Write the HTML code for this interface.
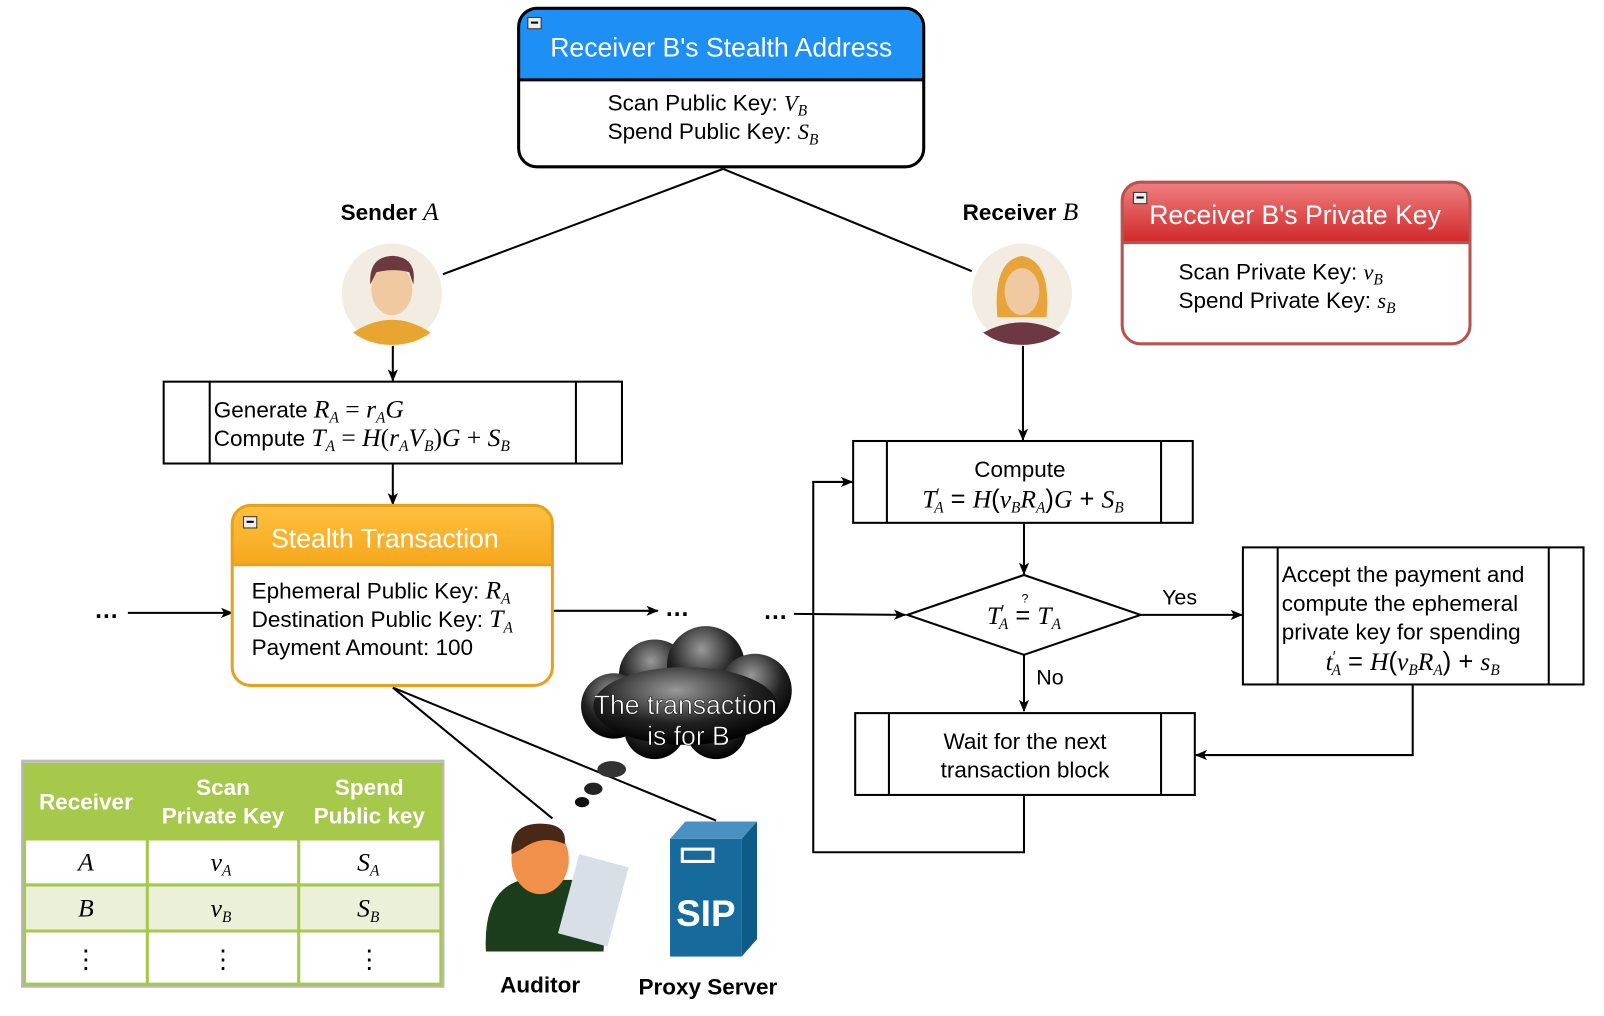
<!DOCTYPE html>
<html><head><meta charset="utf-8"><style>
html,body{margin:0;padding:0;background:#fff;}
svg{display:block;}
text{font-family:"Liberation Sans",sans-serif;}
.m{font-family:"Liberation Serif",serif;font-style:italic;}
</style></head><body>
<svg width="1604" height="1016" viewBox="0 0 1568 993" xmlns="http://www.w3.org/2000/svg">
<defs>
<marker id="ar" markerWidth="12" markerHeight="10" refX="11" refY="5" orient="auto" markerUnits="userSpaceOnUse"><path d="M0,0 L12,5 L0,10 L3,5 z" fill="#000"/></marker>
<linearGradient id="rg" x1="0" y1="0" x2="0" y2="1"><stop offset="0" stop-color="#f08080"/><stop offset="1" stop-color="#d0282a"/></linearGradient>
<linearGradient id="og" x1="0" y1="0" x2="0" y2="1"><stop offset="0" stop-color="#ffc040"/><stop offset="1" stop-color="#f5a81c"/></linearGradient>
<radialGradient id="cg" cx="0.45" cy="0.3" r="0.7"><stop offset="0" stop-color="#999"/><stop offset="0.6" stop-color="#222"/><stop offset="1" stop-color="#000"/></radialGradient>
</defs>
<g fill="none" stroke="#000" stroke-width="2">
<line x1="707" y1="165" x2="433" y2="268"/>
<line x1="707" y1="165" x2="950" y2="265"/>
<line x1="384" y1="672" x2="540" y2="800"/>
<line x1="384" y1="672" x2="700" y2="802"/>
<line x1="384" y1="338" x2="384" y2="372" marker-end="url(#ar)"/>
<line x1="384" y1="453" x2="384" y2="493" marker-end="url(#ar)"/>
<line x1="125" y1="599" x2="227" y2="599" marker-end="url(#ar)"/>
<line x1="540" y1="597" x2="643" y2="597" marker-end="url(#ar)"/>
<line x1="776" y1="600" x2="885" y2="601" marker-end="url(#ar)"/>
<line x1="1000" y1="338" x2="1000" y2="430" marker-end="url(#ar)"/>
<line x1="1001" y1="511" x2="1001" y2="561" marker-end="url(#ar)"/>
<line x1="1115" y1="601" x2="1214" y2="601" marker-end="url(#ar)"/>
<line x1="1001" y1="640" x2="1001" y2="695" marker-end="url(#ar)"/>
<polyline points="1381,669 1381,738 1169,738" marker-end="url(#ar)"/>
<polyline points="1001,777 1001,833 795,833 795,471 833,471" marker-end="url(#ar)"/>
</g>
<path d="M507,78 V26 Q507,8 525,8 H885 Q903,8 903,26 V78 Z" fill="#1e8ff5"/>
<rect x="507" y="8" width="396" height="155" rx="18" fill="none" stroke="#000" stroke-width="3"/>
<line x1="507" y1="78" x2="903" y2="78" stroke="#000" stroke-width="3"/>
<rect x="516" y="17" width="13" height="11" fill="#eee" stroke="#333"/><line x1="519" y1="22" x2="526" y2="22" stroke="#000" stroke-width="2"/>
<text x="705" y="55" font-size="26" fill="#fff" text-anchor="middle">Receiver B's Stealth Address</text>
<text x="594" y="108" font-size="22">Scan Public Key: <tspan class="m">V</tspan><tspan class="m" font-size="15" dy="5">B</tspan></text>
<text x="594" y="136" font-size="22">Spend Public Key: <tspan class="m">S</tspan><tspan class="m" font-size="15" dy="5">B</tspan></text>
<path d="M1097,237 V196 Q1097,178 1115,178 H1419 Q1437,178 1437,196 V237 Z" fill="url(#rg)"/>
<rect x="1097" y="178" width="340" height="158" rx="18" fill="none" stroke="#b85450" stroke-width="3"/>
<line x1="1097" y1="237" x2="1437" y2="237" stroke="#b85450" stroke-width="3"/>
<rect x="1108" y="188" width="13" height="11" fill="#eee" stroke="#333"/><line x1="1111" y1="193" x2="1118" y2="193" stroke="#000" stroke-width="2"/>
<text x="1266" y="219" font-size="26" fill="#fff" text-anchor="middle">Receiver B's Private Key</text>
<text x="1152" y="273" font-size="22">Scan Private Key: <tspan class="m">v</tspan><tspan class="m" font-size="15" dy="5">B</tspan></text>
<text x="1152" y="301" font-size="22">Spend Private Key: <tspan class="m">s</tspan><tspan class="m" font-size="15" dy="5">B</tspan></text>
<text x="333" y="215" font-size="22" font-weight="bold">Sender <tspan class="m" font-weight="normal" font-size="25">A</tspan></text>
<text x="941" y="215" font-size="22" font-weight="bold">Receiver <tspan class="m" font-weight="normal" font-size="25">B</tspan></text>
<ellipse cx="383" cy="287" rx="49" ry="49" fill="#f3ece2"/>
<path d="M345,325 Q383,300 421,325 Q405,337 383,337 Q361,337 345,325Z" fill="#e8a530"/>
<ellipse cx="383" cy="283" rx="20" ry="25" fill="#f0c9a0"/>
<path d="M362,278 Q360,250 385,250 Q408,252 404,278 L400,266 Q385,262 368,266 Z" fill="#6b3a3f"/>
<ellipse cx="999" cy="287" rx="49" ry="49" fill="#f3ece2"/>
<path d="M961,325 Q999,305 1037,325 Q1021,337 999,337 Q977,337 961,325Z" fill="#6e3842"/>
<path d="M975,310 Q970,255 999,250 Q1028,255 1023,310 Z" fill="#e7a43a"/>
<ellipse cx="999" cy="285" rx="17" ry="23" fill="#f0c9a0"/>
<g fill="none" stroke="#000" stroke-width="2">
<rect x="160" y="373" width="448" height="80"/><line x1="205" y1="373" x2="205" y2="453"/><line x1="563" y1="373" x2="563" y2="453"/>
<rect x="834" y="431" width="332" height="80"/><line x1="867" y1="431" x2="867" y2="511"/><line x1="1135" y1="431" x2="1135" y2="511"/>
<rect x="1215" y="535" width="333" height="134"/><line x1="1249" y1="535" x2="1249" y2="669"/><line x1="1514" y1="535" x2="1514" y2="669"/>
<rect x="836" y="697" width="332" height="80"/><line x1="869" y1="697" x2="869" y2="777"/><line x1="1135" y1="697" x2="1135" y2="777"/>
<polygon points="887,601 1001,562 1115,601 1001,640" fill="#fff"/>
</g>
<text x="209" y="408" font-size="22">Generate <tspan class="m" font-size="25">R</tspan><tspan class="m" font-size="15" dy="5">A</tspan><tspan dy="-5" font-size="25" font-family="Liberation Serif"> = </tspan><tspan class="m" font-size="25">r</tspan><tspan class="m" font-size="15" dy="5">A</tspan><tspan class="m" font-size="25" dy="-5">G</tspan></text>
<text x="209" y="436" font-size="22">Compute <tspan class="m" font-size="25">T</tspan><tspan class="m" font-size="15" dy="5">A</tspan><tspan dy="-5" font-size="25" font-family="Liberation Serif"> = </tspan><tspan class="m" font-size="25">H</tspan><tspan font-size="25" font-family="Liberation Serif">(</tspan><tspan class="m" font-size="25">r</tspan><tspan class="m" font-size="15" dy="5">A</tspan><tspan class="m" font-size="25" dy="-5">V</tspan><tspan class="m" font-size="15" dy="5">B</tspan><tspan font-size="25" font-family="Liberation Serif" dy="-5">)</tspan><tspan class="m" font-size="25">G</tspan><tspan font-size="25" font-family="Liberation Serif"> + </tspan><tspan class="m" font-size="25">S</tspan><tspan class="m" font-size="15" dy="5">B</tspan></text>
<path d="M227,552 V512 Q227,494 245,494 H522 Q540,494 540,512 V552 Z" fill="url(#og)"/>
<rect x="227" y="494" width="313" height="176" rx="18" fill="none" stroke="#e6a21f" stroke-width="3"/>
<line x1="227" y1="552" x2="540" y2="552" stroke="#e6a21f" stroke-width="3"/>
<rect x="238" y="505" width="13" height="11" fill="#eee" stroke="#333"/><line x1="241" y1="510" x2="248" y2="510" stroke="#000" stroke-width="2"/>
<text x="265" y="535" font-size="26" fill="#fff">Stealth Transaction</text>
<text x="246" y="585" font-size="22">Ephemeral Public Key: <tspan class="m" font-size="25">R</tspan><tspan class="m" font-size="15" dy="5">A</tspan></text>
<text x="246" y="613" font-size="22">Destination Public Key: <tspan class="m" font-size="25">T</tspan><tspan class="m" font-size="15" dy="5">A</tspan></text>
<text x="246" y="640" font-size="22">Payment Amount: 100</text>
<text x="92" y="604" font-size="24" font-weight="bold">…</text>
<text x="650" y="602" font-size="24" font-weight="bold">…</text>
<text x="746" y="605" font-size="24" font-weight="bold">…</text>
<text x="997" y="466" font-size="22" text-anchor="middle">Compute</text>
<text x="1000" y="496" font-size="25" text-anchor="middle" font-family="Liberation Serif"><tspan class="m">T</tspan><tspan font-size="15" dy="-8">′</tspan><tspan class="m" font-size="15" dx="-5" dy="13">A</tspan><tspan dy="-5"> = </tspan><tspan class="m">H</tspan>(<tspan class="m">v</tspan><tspan class="m" font-size="15" dy="5">B</tspan><tspan class="m" dy="-5">R</tspan><tspan class="m" font-size="15" dy="5">A</tspan><tspan dy="-5">)</tspan><tspan class="m">G</tspan> + <tspan class="m">S</tspan><tspan class="m" font-size="15" dy="5">B</tspan></text>
<text x="1001" y="610" font-size="25" text-anchor="middle" font-family="Liberation Serif"><tspan class="m">T</tspan><tspan font-size="15" dy="-8">′</tspan><tspan class="m" font-size="15" dx="-5" dy="13">A</tspan><tspan dy="-5"> = </tspan><tspan class="m">T</tspan><tspan class="m" font-size="15" dy="5">A</tspan></text>
<text x="1002" y="589" font-size="12" text-anchor="middle" font-family="Liberation Serif">?</text>
<text x="1136" y="591" font-size="21">Yes</text>
<text x="1013" y="669" font-size="21">No</text>
<text x="1253" y="569" font-size="22">Accept the payment and</text>
<text x="1253" y="597" font-size="22">compute the ephemeral</text>
<text x="1253" y="625" font-size="22">private key for spending</text>
<text x="1381" y="655" font-size="25" text-anchor="middle" font-family="Liberation Serif"><tspan class="m">t</tspan><tspan font-size="15" dy="-8">′</tspan><tspan class="m" font-size="15" dx="-4" dy="13">A</tspan><tspan dy="-5"> = </tspan><tspan class="m">H</tspan>(<tspan class="m">v</tspan><tspan class="m" font-size="15" dy="5">B</tspan><tspan class="m" dy="-5">R</tspan><tspan class="m" font-size="15" dy="5">A</tspan><tspan dy="-5">) + </tspan><tspan class="m">s</tspan><tspan class="m" font-size="15" dy="5">B</tspan></text>
<text x="1002" y="732" font-size="22" text-anchor="middle">Wait for the next</text>
<text x="1002" y="760" font-size="22" text-anchor="middle">transaction block</text>
<g fill="url(#cg)">
<circle cx="640" cy="660" r="35"/><circle cx="690" cy="650" r="38"/><circle cx="738" cy="675" r="36"/><circle cx="600" cy="690" r="32"/>
<circle cx="640" cy="712" r="30"/><circle cx="700" cy="712" r="30"/><ellipse cx="670" cy="690" rx="90" ry="38"/>
</g>
<ellipse cx="598" cy="752" rx="14" ry="8" fill="#333"/>
<ellipse cx="580" cy="771" rx="9" ry="6" fill="#222"/>
<ellipse cx="569" cy="784" rx="7" ry="5" fill="#111"/>
<text x="670" y="698" font-size="26" fill="#fff" text-anchor="middle" stroke="#000" stroke-width="0.5">The transaction</text>
<text x="673" y="728" font-size="26" fill="#fff" text-anchor="middle" stroke="#000" stroke-width="0.5">is for B</text>
<rect x="22" y="744" width="411" height="220" fill="#fff" stroke="#bbb" stroke-width="3"/>
<rect x="24" y="747" width="407" height="73" fill="#a6c84b"/>
<rect x="24" y="865" width="407" height="45" fill="#eaf1d8"/>
<g stroke="#a6c84b" stroke-width="3" fill="none">
<rect x="24" y="747" width="407" height="215"/>
<line x1="144" y1="747" x2="144" y2="962"/><line x1="292" y1="747" x2="292" y2="962"/>
<line x1="24" y1="820" x2="431" y2="820"/><line x1="24" y1="865" x2="431" y2="865"/><line x1="24" y1="910" x2="431" y2="910"/>
</g>
<g fill="#fff" font-size="22" font-weight="bold" text-anchor="middle">
<text x="84" y="791">Receiver</text>
<text x="218" y="777">Scan</text><text x="218" y="805">Private Key</text>
<text x="361" y="777">Spend</text><text x="361" y="805">Public key</text>
</g>
<g font-size="25" text-anchor="middle" font-family="Liberation Serif">
<text x="84" y="851" class="m">A</text>
<text x="216" y="851" class="m">v<tspan font-size="15" dy="5">A</tspan></text>
<text x="360" y="851" class="m">S<tspan font-size="15" dy="5">A</tspan></text>
<text x="84" y="896" class="m">B</text>
<text x="216" y="896" class="m">v<tspan font-size="15" dy="5">B</tspan></text>
<text x="360" y="896" class="m">S<tspan font-size="15" dy="5">B</tspan></text>
<text x="84" y="946">⋮</text><text x="218" y="946">⋮</text><text x="361" y="946">⋮</text>
</g>
<path d="M475,930 Q472,870 510,860 L560,860 Q595,870 590,930 Z" fill="#1c3d1c"/>
<rect x="555" y="840" width="50" height="80" fill="#d8dfe6" transform="rotate(15 580 880)"/>
<ellipse cx="528" cy="840" rx="28" ry="34" fill="#f0904a"/>
<path d="M500,835 Q498,805 528,805 Q555,805 552,825 Q530,815 510,830 Z" fill="#4a2818"/>
<text x="528" y="970" font-size="22" font-weight="bold" text-anchor="middle">Auditor</text>
<polygon points="655,820 670,803 740,803 725,820" fill="#4a90c0"/>
<polygon points="725,820 740,803 740,918 725,935" fill="#0e5a88"/>
<rect x="655" y="820" width="70" height="115" fill="#166a9c"/>
<rect x="667" y="830" width="30" height="12" fill="none" stroke="#fff" stroke-width="3"/>
<text x="690" y="905" font-size="36" fill="#fff" font-weight="bold" text-anchor="middle">SIP</text>
<text x="692" y="972" font-size="22" font-weight="bold" text-anchor="middle">Proxy Server</text>
</svg>
</body></html>
